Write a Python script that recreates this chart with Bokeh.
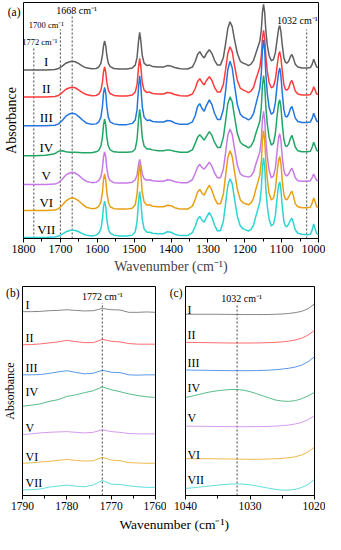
from bokeh.plotting import figure
from bokeh.models import Range1d, FixedTicker, Label
from bokeh.layouts import column, row
from bokeh.embed import file_html
from bokeh.resources import INLINE

SERIF = "Liberation Serif"
names = ["I", "II", "III", "IV", "V", "VI", "VII"]
colors = ["#5f5f5f", "#ff3b3b", "#2176e0", "#22a565", "#c77ae6", "#e8a013", "#2ed3d3"]

# ---------------- panel (a) ----------------
wn_a = [1800, 1770, 1740, 1715, 1705, 1695, 1685, 1675, 1668, 1660,
        1650, 1640, 1630, 1615, 1603, 1596, 1590, 1586, 1583, 1580,
        1577, 1574, 1570, 1565, 1555, 1540, 1520, 1505, 1497, 1492,
        1488, 1485, 1482, 1478, 1473, 1465, 1458, 1450, 1435, 1420,
        1410, 1400, 1390, 1375, 1355, 1342, 1334, 1328, 1322, 1316,
        1310, 1304, 1296, 1289, 1282, 1274, 1266, 1258, 1252, 1246,
        1240, 1234, 1228, 1220, 1212, 1204, 1197, 1190, 1183, 1176,
        1170, 1164, 1159, 1155, 1152, 1149, 1146, 1143, 1139, 1134,
        1128, 1122, 1117, 1112, 1108, 1105, 1102, 1098, 1094, 1090,
        1086, 1081, 1076, 1072, 1068, 1063, 1056, 1045, 1030, 1022,
        1017, 1013, 1009, 1005, 1000]

I_a = [0, 0, 0, 0.5, 1.5, 4, 7, 8.5, 9, 8.5,
       6.5, 4, 2.2, 1.2, 1.5, 3, 7, 15, 25, 30,
       25, 15, 7, 3.5, 1.5, 1, 1, 2, 5, 13,
       30, 39, 31, 15, 7, 4.5, 5, 3.5, 3, 3,
       4.5, 4, 2.5, 1.2, 1, 3, 9, 16, 19, 15,
       12.5, 17, 21, 17, 10, 5, 5, 13, 27, 43,
       50, 45, 32, 17, 9, 7, 6, 4.5, 6, 10,
       17, 24, 30, 42, 60, 68, 60, 42, 26, 15,
       9.5, 11, 18, 32, 43, 46, 40, 25, 13, 8,
       7, 9, 14, 16, 12, 6, 3, 2, 2, 2.5,
       6, 11, 7, 3, 2.5]
II_a = [0, 0, 0, 0.5, 1.5, 4.5, 8, 9.5, 10, 9.5,
        7, 4.5, 2.5, 1.2, 1.5, 3, 7, 15, 26, 31,
        26, 15, 7, 3.5, 1.5, 1, 1, 2, 5, 13,
        31, 40, 32, 15, 7, 4.5, 5, 3.5, 3, 3,
        4.5, 4, 2.5, 1.2, 1, 3, 9, 16, 19, 15,
        12.5, 17, 21, 17, 10, 5, 5, 13, 28, 45,
        52, 47, 33, 17, 9, 7, 6, 4.5, 6, 10,
        18, 25, 31, 43, 61, 69, 61, 43, 27, 15,
        9.5, 11, 18, 33, 44, 47, 41, 26, 13, 8,
        7, 9, 15, 17, 12.5, 6, 3, 2, 2, 2.5,
        6, 10.5, 7, 3, 2.5]
III_a = [0, 0, 0, 0.5, 2, 5.5, 10, 12.5, 13, 12.5,
         9.5, 6, 3, 1.5, 2, 4, 9, 20, 34, 40,
         34, 20, 9, 4, 2, 1.2, 1.2, 2.5, 6, 17,
         40, 52, 42, 20, 9, 5.5, 6, 4.5, 4, 4,
         5.5, 5, 3, 1.5, 1.5, 4, 11, 20, 23, 18,
         15, 21, 27, 22, 13, 6.5, 6.5, 17, 36, 58,
         67, 60, 43, 22, 12, 9, 8, 6, 8, 13,
         22, 31, 39, 55, 79, 89, 79, 55, 34, 19,
         12, 14, 24, 43, 56, 60, 52, 33, 17, 10,
         9, 12, 18, 20, 15, 8, 4.5, 3.5, 3.5, 4,
         8, 13, 9, 5, 4]
IV_a = [0, 0, 0.5, 2, 4.5, 5, 4, 3.5, 3.5, 3.5,
        3.3, 3, 3, 3, 4, 5.5, 10, 19, 32, 38,
        32, 19, 10, 6, 4, 3.5, 3.5, 4, 7, 17,
        37, 48, 39, 19, 10, 7, 7, 6, 5, 5,
        6, 5.5, 4.5, 3.5, 3.5, 6, 13, 19, 21.7, 19,
        16, 20, 25, 21, 14, 8.5, 8.5, 19, 36, 54,
        61, 56, 41, 23, 14, 11, 10, 8, 10, 15,
        23, 30, 36, 51, 73, 83, 74, 52, 33, 19,
        11, 13, 23, 42, 55, 58, 51, 32, 17, 10.5,
        9.5, 12, 18, 21, 16, 9, 5, 4, 4, 4.5,
        9, 14, 10, 5.5, 4.5]
V_a = [0, 0, 0, 0.5, 2, 5.5, 10, 12, 12.7, 12,
       9.5, 6, 3.5, 2, 2.5, 4, 8, 17, 29, 34,
       29, 17, 8, 4, 2, 1.5, 1.5, 2.5, 5, 10,
       21, 26, 21, 11, 6, 4.5, 5, 4, 3.5, 3.5,
       5, 4.5, 3, 2, 2, 5, 12, 18, 21, 17.5,
       16, 19, 23.3, 19, 12, 7, 7, 16, 33, 51,
       57.7, 52, 38, 20, 11, 9, 8.5, 7.7, 9, 13,
       21, 28, 34, 47, 67, 76, 68, 47, 29, 15,
       7, 9, 17, 36, 49, 52.7, 46, 28, 15, 10,
       9, 11, 15, 17, 13, 7, 4, 3.5, 3.5, 4,
       7.5, 11, 7.5, 4.5, 4]
VI_a = [0, 0, 0, 0.5, 2, 5.5, 10, 12.5, 13, 12.5,
        10, 6.5, 3.5, 2, 2.5, 4.5, 9, 19, 32, 38,
        32, 19, 9, 4, 2, 1.5, 1.5, 2.5, 6, 17,
        37, 48, 39, 19, 9, 5.5, 6, 4.5, 4, 4,
        5.5, 5, 3, 1.5, 1.5, 4.5, 12, 19, 22, 18,
        16, 21, 26.3, 21, 13, 7, 7, 17, 36, 55,
        62, 56, 41, 22, 11, 8, 7, 6, 8, 13,
        22, 30, 37, 51, 73, 83, 74, 52, 33, 18,
        11, 13, 22, 41, 53, 56, 49, 30, 17, 12,
        11, 14, 18, 20, 15, 7, 4, 3, 3, 3.5,
        8, 13, 9, 4, 3]
VII_a = [0, 0, 0, 0.5, 1.5, 3.5, 6, 7.3, 7.7, 7.3,
         6, 4, 2.5, 1.5, 2.5, 4.5, 9, 19, 32, 37.7,
         32, 19, 9, 4.5, 2.5, 1.5, 1.5, 2.5, 6, 17,
         37, 47.7, 39, 19, 9, 5.5, 5.5, 4.5, 4, 4,
         6, 5.5, 3.5, 2, 2, 5, 12, 19, 22, 18,
         16, 21, 26, 21, 13, 7, 7, 17, 35, 54,
         61, 56, 41, 22, 12, 9, 8, 6.7, 8.5, 13,
         22, 30, 37, 51, 73, 82.7, 74, 52, 33, 19,
         12, 14, 23, 42, 55, 57.7, 50, 31, 17, 12,
         11, 14, 18, 20, 15, 8, 4.5, 3.5, 3, 3.5,
         8, 14, 9, 4, 3]
offsets_a = [175, 147, 117, 86, 56, 29, 1]
series_a = [I_a, II_a, III_a, IV_a, V_a, VI_a, VII_a]
label_y_a = [184, 155.3, 125.3, 94.7, 65.3, 37, 9.7]
marks_a = [1772, 1700, 1668, 1032]
mark_top_a = [199, 217, 232, 217]
mark_text_a = ["1772 cm⁻¹", "1700 cm⁻¹", "1668 cm⁻¹", "1032 cm⁻¹"]
mark_text_x_a = [1756.0, 1738.0, 1656, 1057]
mark_text_y_a = [203.7, 222, 237, 226.3]
mark_text_size_a = ["8.5px", "8.5px", "10px", "10px"]
ticks_a = [1800, 1700, 1600, 1500, 1400, 1300, 1200, 1100, 1000]
minor_a = [1750, 1650, 1550, 1450, 1350, 1250, 1150, 1050]

# ---------------- panel (b) ----------------
wn_b = [1790, 1788, 1786, 1784, 1782, 1780, 1778, 1776, 1774, 1772, 1770, 1768, 1766, 1764, 1762, 1760]
I_b = [0, 0, 0.3, 1, 1.3, 2, 1.3, 0.7, 1, 3.3, 2, 1.7, -0.7, -0.7, -0.3, -0.7]
II_b = [0, 0.3, 1, 2, 3, 4.7, 3.3, 2.3, 2.3, 5.7, 3.7, 3, 1.3, 0.7, 0.7, 0.7]
III_b = [0, 0, 0.3, 1.5, 3, 4.3, 2.5, 1, 1.7, 4.7, 2.7, 2.3, 0, -0.3, 0, 0]
IV_b = [0, 1, 2.3, 5, 6.7, 10, 11.7, 14, 16, 20, 17, 15, 12.7, 11, 9.7, 9]
V_b = [0, 0.7, 1.7, 2.3, 2.7, 3, 2.3, 1.7, 2.3, 5, 3, 2.3, 1, 0.7, 0.7, 0.7]
VI_b = [0, 0.5, 1.3, 2, 3, 4, 3, 2.3, 2.7, 6.3, 3.3, 2.7, 0.7, 0.3, 0, 0]
VII_b = [0, 0.3, 1, 3, 4, 5, 4, 3.3, 5.3, 10, 6, 5.7, 4.3, 3.3, 2.7, 2.7]
offsets_b = [190, 155.7, 124.7, 92.3, 63, 33.3, 5.7]
series_b = [I_b, II_b, III_b, IV_b, V_b, VI_b, VII_b]
label_y_b = [197, 163, 132, 107, 70, 40, 13]
ticks_b = [1790, 1780, 1770, 1760]
minor_b = [1785, 1775, 1765]

# ---------------- panel (c) ----------------
wn_c = [1040, 1039, 1038, 1037, 1036, 1035, 1034, 1033, 1032, 1031, 1030,
        1029, 1028, 1027, 1026, 1025, 1024, 1023, 1022, 1021, 1020]
I_c = [0, 0, 0, 0, 0, 0, -0.1, -0.2, -0.2, -0.3, -0.3, -0.3, -0.3, -0.2, 0, 0.3, 0.8, 1.7, 3, 5.8, 10.7]
II_c = [0, -0.1, -0.2, -0.3, -0.4, -0.5, -0.6, -0.7, -0.7, -0.7, -0.7, -0.6, -0.5, -0.3, 0, 0.5, 1.2, 2.4, 4.2, 7.5, 12.3]
III_c = [0, -0.1, -0.2, -0.3, -0.4, -0.5, -0.6, -0.7, -0.7, -0.7, -0.7, -0.6, -0.4, -0.1, 0.3, 1, 1.8, 3, 5, 8.5, 13.7]
IV_c = [0, 1.4, 3, 4.6, 6, 7, 7.7, 8.2, 8.3, 7.5, 6, 4, 1.7, -0.6, -2.7, -3.7, -4, -3.3, -1.3, 1.7, 5.3]
V_c = [0, -0.05, -0.1, -0.2, -0.3, -0.4, -0.5, -0.55, -0.6, -0.6, -0.6, -0.5, -0.4, -0.2, 0, 0.5, 1.1, 2.2, 3.8, 6.7, 10.7]
VI_c = [0, 0, 0, 0, 0, -0.1, -0.2, -0.3, -0.4, -0.5, -0.6, -0.6, -0.5, -0.3, 0, 0.4, 1, 2, 3.8, 7, 12]
VII_c = [0, 0.6, 1.3, 2, 2.7, 3.4, 4, 4.5, 4.7, 4.4, 3.7, 2.6, 1.3, 0.1, -1, -1.7, -1.7, -1, 1, 4, 9.3]
offsets_c = [187.3, 158.3, 129.7, 101.3, 71.7, 38, 7.3]
series_c = [I_c, II_c, III_c, IV_c, V_c, VI_c, VII_c]
label_y_c = [191.7, 166.3, 136.7, 110.7, 80, 42.3, 15.7]
ticks_c = [1040, 1030, 1020]
minor_c = [1035, 1025]

for wn, ss in ((wn_a, series_a), (wn_b, series_b), (wn_c, series_c)):
    for s in ss:
        assert len(s) == len(wn), (len(s), len(wn))


def style(p, ticks, minor, label_size):
    p.xgrid.visible = False
    p.ygrid.visible = False
    p.outline_line_color = "black"
    p.outline_line_width = 1
    p.outline_line_alpha = 1
    p.background_fill_color = "white"
    p.border_fill_color = "white"
    ax = p.xaxis[0]
    ax.ticker = FixedTicker(ticks=ticks, minor_ticks=minor)
    ax.major_tick_in = 0
    ax.major_tick_out = 4
    ax.minor_tick_in = 0
    ax.minor_tick_out = 3
    ax.major_tick_line_color = "black"
    ax.minor_tick_line_color = "black"
    ax.axis_line_color = "black"
    ax.major_label_text_font = SERIF
    ax.major_label_text_font_size = label_size
    ax.major_label_text_color = "black"
    ax.major_label_standoff = 2


def panel_letter_axis(p, ypos, letter, ylabel, ylabel_size, standoff):
    # the left axis carries only the panel letter (as its single tick label)
    # and the "Absorbance" title; no tick marks, no axis line
    ya = p.yaxis[0]
    ya.ticker = FixedTicker(ticks=[ypos], minor_ticks=[])
    ya.major_label_overrides = {ypos: letter}
    ya.major_tick_line_color = None
    ya.minor_tick_line_color = None
    ya.axis_line_color = None
    ya.major_tick_in = 0
    ya.major_tick_out = 0
    ya.major_label_standoff = 3
    ya.major_label_text_font = SERIF
    ya.major_label_text_font_size = "11.5px"
    ya.major_label_text_color = "black"
    if ylabel:
        ya.axis_label = ylabel
        ya.axis_label_text_font = SERIF
        ya.axis_label_text_font_size = ylabel_size
        ya.axis_label_text_font_style = "normal"
        ya.axis_label_text_color = "black"
        try:
            ya.axis_label_standoff = standoff
        except Exception:
            ya.axis_label_standoff = 0


def add_text(p, x, y, text, size, align="center", angle=0.0):
    p.add_layout(Label(x=x, y=y, text=text, text_font=SERIF, text_font_size=size,
                       text_color="black", text_align=align, text_baseline="middle",
                       angle=angle))


# ---- figure (a)
pa = figure(width=325, height=278, x_range=Range1d(1800, 1000), y_range=Range1d(0, 245),
            output_backend="svg", toolbar_location=None,
            min_border_left=16, min_border_right=7, min_border_top=2, min_border_bottom=40)
style(pa, ticks_a, minor_a, "12px")
pa.xaxis[0].axis_label = "Wavenumber (cm⁻¹)"
pa.xaxis[0].axis_label_text_font = SERIF
pa.xaxis[0].axis_label_text_font_size = "14px"
pa.xaxis[0].axis_label_text_font_style = "normal"
pa.xaxis[0].axis_label_standoff = 3
panel_letter_axis(pa, 235, "(a)", "Absorbance", "14px", -14)
pa.segment(x0=marks_a, x1=marks_a, y0=[0] * len(marks_a), y1=mark_top_a,
           line_color="#444444", line_width=1, line_dash="2 2")
for vals, off, c in zip(series_a, offsets_a, colors):
    pa.line(wn_a, [v + off for v in vals], line_color=c, line_width=1.5)
for n, y in zip(names, label_y_a):
    add_text(pa, 1738.3, y, n, "13px")
for x, y, t, s in zip(mark_text_x_a, mark_text_y_a, mark_text_a, mark_text_size_a):
    add_text(pa, x, y, t, s)

# ---- figure (b)
pb = figure(width=166, height=237, x_range=Range1d(1790, 1760), y_range=Range1d(0, 216),
            output_backend="svg", toolbar_location=None,
            min_border_left=16, min_border_right=11, min_border_top=8, min_border_bottom=20)
style(pb, ticks_b, minor_b, "11.5px")
panel_letter_axis(pb, 209, "(b)", "Absorbance", "12px", -14)
pb.segment(x0=[1772], x1=[1772], y0=[0], y1=[199], line_color="#444444", line_width=1, line_dash="2 2")
for vals, off, c in zip(series_b, offsets_b, colors):
    pb.line(wn_b, [v + off for v in vals], line_color=c, line_width=1, line_alpha=0.75)
for n, y in zip(names, label_y_b):
    add_text(pb, 1789.3, y, n, "12px", align="left")
add_text(pb, 1772.0, 205.7, "1772 cm⁻¹", "10px")

# ---- figure (c)
pc = figure(width=159, height=237, x_range=Range1d(1040, 1020), y_range=Range1d(0, 216),
            output_backend="svg", toolbar_location=None,
            min_border_left=12, min_border_right=11, min_border_top=8, min_border_bottom=20)
style(pc, ticks_c, minor_c, "11.5px")
panel_letter_axis(pc, 209, "(c)", None, None, 0)
pc.segment(x0=[1032], x1=[1032], y0=[0], y1=[198], line_color="#444444", line_width=1, line_dash="2 2")
for vals, off, c in zip(series_c, offsets_c, colors):
    pc.line(wn_c, [v + off for v in vals], line_color=c, line_width=1, line_alpha=0.75)
for n, y in zip(names, label_y_c):
    add_text(pc, 1039.7, y, n, "12px", align="left")
add_text(pc, 1031.3, 203.3, "1032 cm⁻¹", "10px")

# ---- shared x title for (b) and (c)
pt = figure(width=325, height=18, x_range=Range1d(0, 325), y_range=Range1d(0, 18),
            output_backend="svg", toolbar_location=None, x_axis_location=None,
            y_axis_location=None, min_border=0)
pt.outline_line_color = None
pt.xgrid.visible = False
pt.ygrid.visible = False
add_text(pt, 166, 9, "Wavenumber (cm⁻¹)", "13.5px")

layout = column(pa, row(pb, pc), pt)
open("out.html", "w").write(file_html(layout, INLINE))
